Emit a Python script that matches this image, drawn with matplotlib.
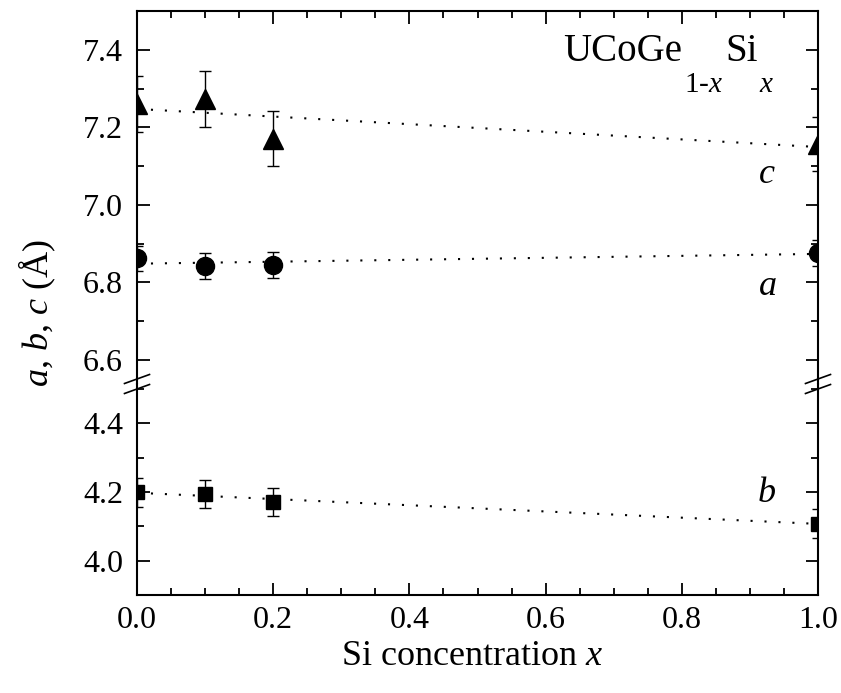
import numpy as np
import matplotlib.pyplot as plt
from matplotlib.lines import Line2D
from matplotlib.ticker import MultipleLocator

plt.rcParams['font.family'] = 'Liberation Serif'
plt.rcParams['mathtext.fontset'] = 'custom'
plt.rcParams['mathtext.rm'] = 'Liberation Serif'
plt.rcParams['mathtext.it'] = 'Liberation Serif:italic'

# Si concentration
x = np.array([0.0, 0.1, 0.2, 1.0])
# lattice parameters (Angstrom)
c_val = np.array([7.261, 7.273, 7.171, 7.157])
c_err = np.array([0.072, 0.073, 0.072, 0.069])
a_val = np.array([6.862, 6.843, 6.845, 6.876])
a_err = np.array([0.033, 0.033, 0.033, 0.033])
b_val = np.array([4.199, 4.194, 4.171, 4.108])
b_err = np.array([0.042, 0.042, 0.041, 0.041])

W, H = 841, 693
fig = plt.figure(figsize=(W / 100, H / 100), dpi=100)

left, right = 137 / W, 818 / W
top, brk, bot = 1 - 11 / H, 1 - 384 / H, 1 - 595 / H
ax_t = fig.add_axes([left, brk, right - left, top - brk])
ax_b = fig.add_axes([left, bot, right - left, brk - bot])

xfit = np.array([0.0, 1.0])
line_kw = dict(color='k', lw=1.5, dashes=(1, 5.7))
eb_kw = dict(color='k', ecolor='k', elinewidth=1.0, capsize=4.5, capthick=1.0, ls='none')

for val, err, mk, ms, ax in [(c_val, c_err, '^', 14, ax_t),
                             (a_val, a_err, 'o', 13, ax_t),
                             (b_val, b_err, 's', 10.5, ax_b)]:
    p = np.polyfit(x, val, 1)
    ax.plot(xfit, np.polyval(p, xfit), **line_kw)
    ax.errorbar(x, val, yerr=err, marker=mk, ms=ms, **eb_kw)

ax_t.set_ylim(6.538, 7.5)
ax_b.set_ylim(3.9, 4.514)
for ax in (ax_t, ax_b):
    ax.set_xlim(0, 1)
    ax.xaxis.set_major_locator(MultipleLocator(0.2))
    ax.xaxis.set_minor_locator(MultipleLocator(0.05))
    ax.yaxis.set_major_locator(MultipleLocator(0.2))
    ax.yaxis.set_minor_locator(MultipleLocator(0.1))
    ax.tick_params(which='both', direction='in', right=True, width=1.3, labelsize=23)
    ax.tick_params(which='major', length=9)
    ax.tick_params(which='minor', length=5)
    ax.tick_params(axis='y', which='major', pad=10)
    ax.tick_params(axis='x', which='major', pad=8)
    for s in ax.spines.values():
        s.set_linewidth(1.5)
    ax.yaxis.set_major_formatter(plt.FormatStrFormatter('%.1f'))
    ax.xaxis.set_major_formatter(plt.FormatStrFormatter('%.1f'))

ax_t.spines['bottom'].set_visible(False)
ax_t.tick_params(which='both', top=True, bottom=False, labelbottom=False)
ax_b.spines['top'].set_visible(False)
ax_b.tick_params(which='both', top=False, bottom=True)

# break marks
dx, dy, off = 12.5 / W, 4.5 / H, 5 / H
for xb in (left, right):
    for o in (-off, off):
        fig.add_artist(Line2D([xb - dx, xb + dx], [brk + o - dy, brk + o + dy],
                              color='k', lw=1.2, transform=fig.transFigure))

ax_t.text(0.925, 7.057, '$c$', fontsize=26, ha='center', va='baseline')
ax_t.text(0.925, 6.768, '$a$', fontsize=26, ha='center', va='baseline')
ax_b.text(0.925, 4.172, '$b$', fontsize=26, ha='center', va='baseline')

# compound label with deep subscripts
base_y = 1 - 61 / H
sub_y = 1 - 92 / H
pieces = [('UCoGe', 28, base_y), ('1-$x$', 21, sub_y), ('Si', 28, base_y), ('$x$', 21, sub_y)]
xpos = 563
fig.canvas.draw()
for txt, fs, yb in pieces:
    t = fig.text(xpos / W, yb, txt, fontsize=fs, ha='left', va='baseline')
    bb = t.get_window_extent(renderer=fig.canvas.get_renderer())
    xpos = bb.x1 + 2

fig.text(472 / W, 1 - 665 / H, 'Si concentration $x$', fontsize=26,
         ha='center', va='baseline')
fig.text(37 / W, 1 - 313 / H, '$a$, $b$, $c$ (Å)', fontsize=26, rotation=90,
         ha='center', va='center')

fig.savefig('out.png', dpi=100)
